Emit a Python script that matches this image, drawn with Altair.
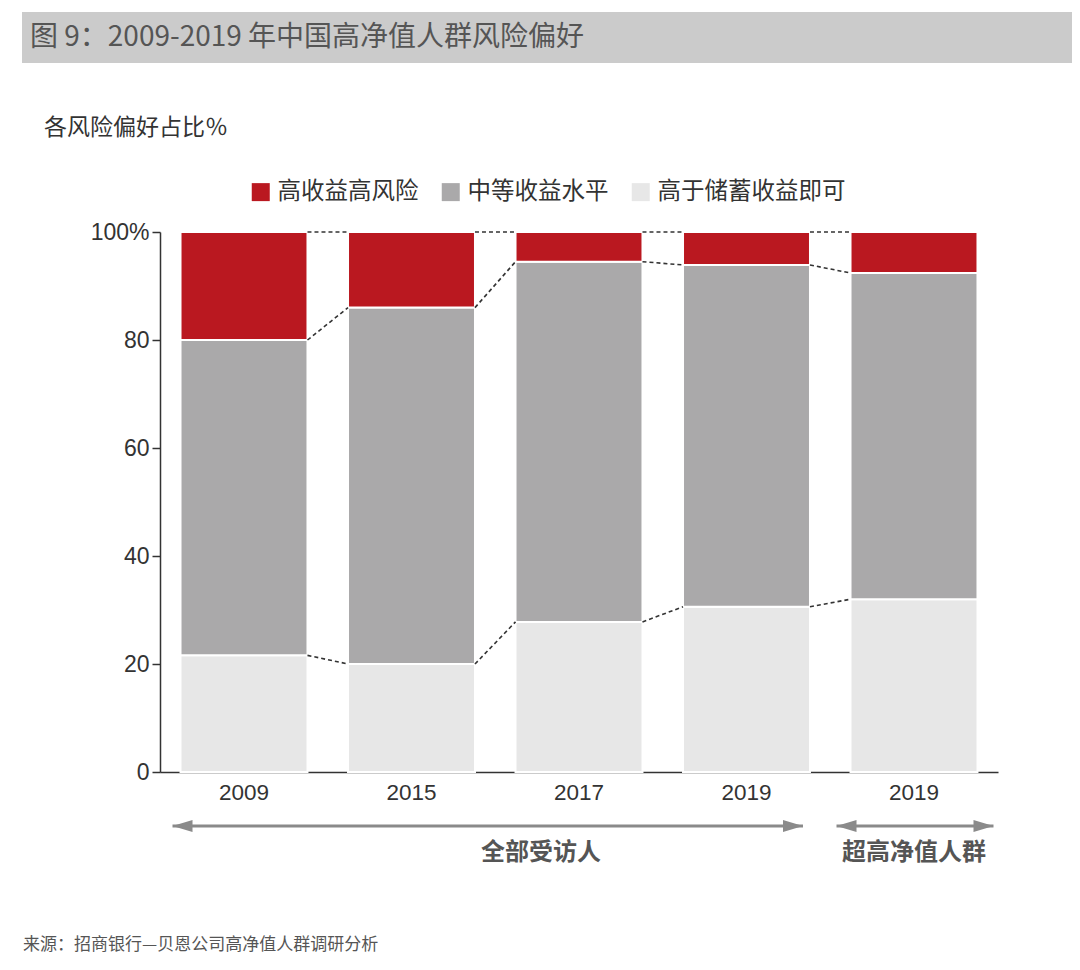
import altair as alt
import pandas as pd

# ---- data ----
keys = ["2009", "2015", "2017", "2019", "2019U"]
series = ["高收益高风险", "中等收益水平", "高于储蓄收益即可"]
high = [20.0, 14.0, 5.5, 6.1, 7.6]
mid = [58.4, 66.0, 66.7, 63.3, 60.4]
low = [21.6, 20.0, 27.8, 30.6, 32.0]
colors = ["#BA1820", "#AAA9AA", "#E7E7E7"]
y_ticks = [0, 20, 40, 60, 80, 100]
groups = ["全部受访人", "超高净值人群"]
group_start = ["2009", "2019U"]
group_end = ["2019", "2019U"]
title_text = "图 9：2009-2019 年中国高净值人群风险偏好"
subtitle_text = "各风险偏好占比％"
source_text = "来源：招商银行—贝恩公司高净值人群调研分析"

CJK = "Noto Sans CJK SC"
NUM = "Liberation Sans"

# ---- tables ----
rows = []
for i, k in enumerate(keys):
    base = 0.0
    for s, v in [(series[2], low[i]), (series[1], mid[i]), (series[0], high[i])]:
        rows.append({"key": k, "series": s, "y0": base, "y1": base + v})
        base += v
bars_df = pd.DataFrame(rows)

conn = []
for i in range(len(keys) - 1):
    ca = [low[i], low[i] + mid[i], low[i] + mid[i] + high[i]]
    cb = [low[i + 1], low[i + 1] + mid[i + 1], low[i + 1] + mid[i + 1] + high[i + 1]]
    for a, b in zip(ca, cb):
        conn.append({"k1": keys[i], "k2": keys[i + 1], "v1": a, "v2": b})
conn_df = pd.DataFrame(conn)

xscale = alt.Scale(domain=keys, paddingInner=0.242, paddingOuter=0.1225)
yscale = alt.Scale(domain=[0, 100], nice=False)

x_axis = alt.Axis(labelExpr="slice(datum.label, 0, 4)", labelAngle=0, ticks=False,
                  domainColor="#333333", domainWidth=1.5, labelFont=NUM,
                  labelFontSize=22.5, labelColor="#333333", labelPadding=9,
                  title=None, grid=False)
y_axis = alt.Axis(values=y_ticks,
                  labelExpr="datum.value == 100 ? '100%' : datum.label",
                  labelFont=NUM, labelFontSize=23, labelColor="#333333",
                  domainColor="#333333", domainWidth=1.5, tickColor="#333333",
                  tickSize=8, tickWidth=1.5, grid=False, title=None,
                  labelPadding=3)

bars = alt.Chart(bars_df).mark_bar(stroke="white", strokeWidth=2).encode(
    x=alt.X("key:N", scale=xscale, sort=keys, axis=x_axis),
    y=alt.Y("y0:Q", scale=yscale, axis=y_axis),
    y2="y1:Q",
    color=alt.Color("series:N", scale=alt.Scale(domain=series, range=colors),
                    legend=alt.Legend(orient="none", legendX=89, legendY=-52,
                                      direction="horizontal", title=None,
                                      symbolType="square", symbolSize=324,
                                      symbolStrokeWidth=0, symbolOpacity=1,
                                      labelFont=CJK, labelFontSize=23.5,
                                      labelColor="#333333", labelOffset=5,
                                      labelLimit=400, columnPadding=20)),
)

connectors = alt.Chart(conn_df).mark_rule(color="#333333", strokeWidth=1.6,
                                          strokeDash=[4, 3]).encode(
    x=alt.X("k1:N", scale=xscale, bandPosition=1, axis=x_axis),
    x2=alt.X2("k2:N", bandPosition=0),
    y=alt.Y("v1:Q", scale=yscale, axis=y_axis),
    y2="v2:Q",
)

ARROW_Y = 594
ARROW_COLOR = "#8A8A8A"


def arrow(gi, off_start, off_end):
    d = pd.DataFrame({"s": [group_start[gi]], "e": [group_end[gi]]})
    line = alt.Chart(d).mark_rule(color=ARROW_COLOR, strokeWidth=3,
                                  xOffset=off_start, x2Offset=off_end).encode(
        x=alt.X("s:N", scale=xscale, bandPosition=0, axis=x_axis),
        x2=alt.X2("e:N", bandPosition=1),
        y=alt.value(ARROW_Y),
    )
    left = alt.Chart(d).mark_point(shape="M-1,0L1,-0.6L1,0.6Z", size=400, filled=True,
                                   opacity=1, color=ARROW_COLOR,
                                   xOffset=off_start + 10).encode(
        x=alt.X("s:N", scale=xscale, bandPosition=0, axis=x_axis),
        y=alt.value(ARROW_Y),
    )
    right = alt.Chart(d).mark_point(shape="M1,0L-1,-0.6L-1,0.6Z", size=400, filled=True,
                                    opacity=1, color=ARROW_COLOR,
                                    xOffset=off_end - 10).encode(
        x=alt.X("e:N", scale=xscale, bandPosition=1, axis=x_axis),
        y=alt.value(ARROW_Y),
    )
    return [line, left, right]


arrows = arrow(0, -8, -7) + arrow(1, -14, 16)

g1 = alt.Chart(pd.DataFrame({"k": ["2017"], "t": [groups[0]]})).mark_text(
    font=CJK, fontSize=24, fontWeight="bold", color="#555555", baseline="middle",
    align="center").encode(
    x=alt.X("k:N", scale=xscale, bandPosition=0.2, axis=x_axis),
    y=alt.value(621), text="t:N")
g2 = alt.Chart(pd.DataFrame({"k": ["2019U"], "t": [groups[1]]})).mark_text(
    font=CJK, fontSize=24, fontWeight="bold", color="#555555", baseline="middle",
    align="center").encode(
    x=alt.X("k:N", scale=xscale, bandPosition=0.5, axis=x_axis),
    y=alt.value(621), text="t:N")

one = pd.DataFrame({"t": [title_text]})
banner = alt.Chart(one).mark_rect(color="#CBCBCB").encode(
    x=alt.value(-138), x2=alt.value(912), y=alt.value(-220), y2=alt.value(-169))
title = alt.Chart(one).mark_text(font=CJK, fontSize=28, color="#555555", align="left",
                                 baseline="middle").encode(
    x=alt.value(-130), y=alt.value(-194), text="t:N")
subtitle = alt.Chart(pd.DataFrame({"t": [subtitle_text]})).mark_text(
    font=CJK, fontSize=23, color="#333333", align="left", baseline="middle").encode(
    x=alt.value(-116), y=alt.value(-104), text="t:N")
source = alt.Chart(pd.DataFrame({"t": [source_text]})).mark_text(
    font=CJK, fontSize=17, color="#555555", align="left", baseline="middle").encode(
    x=alt.value(-137), y=alt.value(713), text="t:N")

chart = alt.layer(
    banner, title, subtitle, bars, connectors, *arrows, g1, g2, source
).properties(
    width=838, height=540,
    autosize=alt.AutoSizeParams(type="none"),
    padding={"left": 152, "top": 224, "right": 74, "bottom": 190},
    background="white",
).configure_view(stroke=None)

chart.save("out.html", embed_options={"renderer": "svg", "actions": False})
